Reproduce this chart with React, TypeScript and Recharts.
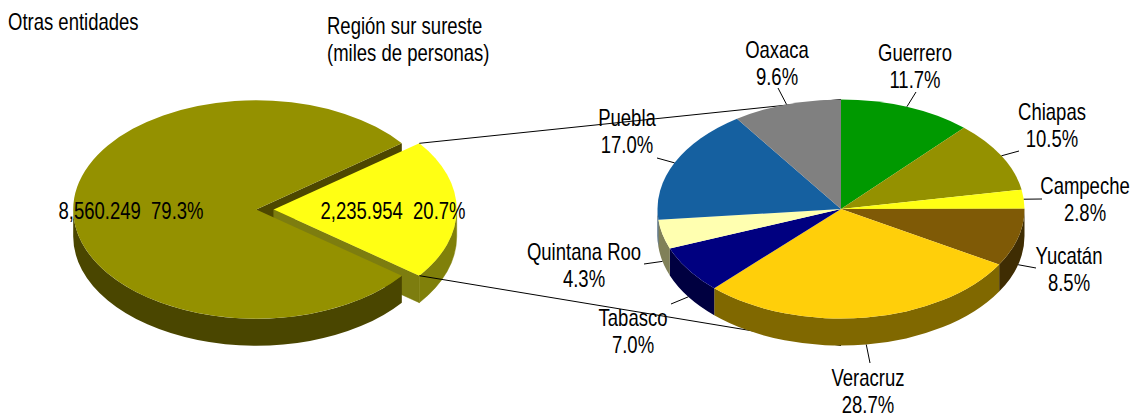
import { Pie, PieChart } from 'recharts';

const overviewNames = ['Otras entidades', 'Región sur sureste'];
const overviewValues = [8560.249, 2235.954];
const overviewShares = ['79.3%', '20.7%'];
const overviewColors = ['#949100', '#FFFF14'];
const overviewWalls = ['#4A4600', '#80800A'];

const regionNames = ['Guerrero', 'Chiapas', 'Campeche', 'Yucatán', 'Veracruz', 'Tabasco', 'Quintana Roo', 'Puebla', 'Oaxaca'];
const regionValues = [11.7, 10.5, 2.8, 8.5, 28.7, 7.0, 4.3, 17.0, 9.6];
const regionColors = ['#009900', '#949100', '#FFFF14', '#7F5A06', '#FFCF0A', '#000080', '#FFFFB0', '#1560A0', '#808080'];
const regionWalls = ['#004D00', '#4A4600', '#80800A', '#3F2D03', '#806800', '#000040', '#808058', '#0B3050', '#404040'];

// label centres and where the leader line stops, hand placed like in the original
const regionLabelPos = [[915, 54], [1052, 113], [1085, 187], [1069, 257], [868, 379], [633, 319], [584, 253], [627, 119], [777, 51]];
const regionLeaderEnds = [[916, 92], [1019, 151], [1042, 199], [1036, 268], [870, 363], [671, 304], [644, 264], [657, 158], [778, 88]];

const SQUASH = 0.597; // tilt of the pie, minor axis / major axis
const DEPTH = 27;
const LEFT = { cx: 256.2, cy: 209.5, r: 183 };
const RIGHT = { cx: 841, cy: 209, r: 183.5 };
const EXPLODE = 17.5; // yellow slice is pulled out to the right
const FONT = '"Liberation Sans", Arial, sans-serif';

const rad = (a: number) => (a * Math.PI) / 180;
const pt = (cx: number, cy: number, r: number, a: number) => [cx + r * Math.cos(rad(a)), cy - r * SQUASH * Math.sin(rad(a))];

// original text is tall and narrow, so 23px squeezed horizontally
const Txt = ({ x, y, anchor = 'start', children }: any) => (
  <text
    transform={`translate(${x},${y}) scale(0.805,1)`}
    textAnchor={anchor}
    fontFamily={FONT}
    fontSize={23}
    fill="#000"
    style={{ whiteSpace: 'pre' }}
  >
    {children}
  </text>
);

const topPath = (cx: number, cy: number, r: number, a0: number, a1: number) => {
  const [x0, y0] = pt(cx, cy, r, a0);
  const [x1, y1] = pt(cx, cy, r, a1);
  const large = a1 - a0 > 180 ? 1 : 0;
  return `M${cx},${cy} L${x0},${y0} A${r},${r * SQUASH} 0 ${large} 0 ${x1},${y1} Z`;
};

// rim of the slice, only the part facing the viewer
const wallPaths = (cx: number, cy: number, r: number, a0: number, a1: number) => {
  const out: string[] = [];
  for (let k = -2; k <= 2; k++) {
    const s = Math.max(a0, 180 + k * 360);
    const e = Math.min(a1, 360 + k * 360);
    if (e <= s) continue;
    const [x0, y0] = pt(cx, cy, r, s);
    const [x1, y1] = pt(cx, cy, r, e);
    const large = e - s > 180 ? 1 : 0;
    out.push(
      `M${x0},${y0} A${r},${r * SQUASH} 0 ${large} 0 ${x1},${y1} L${x1},${y1 + DEPTH} A${r},${r * SQUASH} 0 ${large} 1 ${x0},${y0 + DEPTH} Z`
    );
  }
  return out;
};

const cutFace = (cx: number, cy: number, r: number, a: number) => {
  const [x, y] = pt(cx, cy, r, a);
  return `M${cx},${cy} L${x},${y} L${x},${y + DEPTH} L${cx},${cy + DEPTH} Z`;
};

const range = (p: any) => [Math.min(p.startAngle, p.endAngle), Math.max(p.startAngle, p.endAngle)];

// back layer of the left pie: the faces showing through the gap, plus the yellow rim
const overviewBack = (p: any) => {
  const [a0, a1] = range(p);
  if (p.index === 0) return <path d={cutFace(p.cx, p.cy, p.outerRadius, a0)} fill="#4D4700" />;
  const cx = p.cx + EXPLODE;
  return (
    <g>
      <path d={cutFace(cx, p.cy, p.outerRadius, a0)} fill="#7D7D0F" stroke="#7D7D0F" strokeWidth={0.5} />
      {wallPaths(cx, p.cy, p.outerRadius, a0, a1).map((d) => (
        <path key={d} d={d} fill={overviewWalls[1]} stroke={overviewWalls[1]} strokeWidth={0.5} />
      ))}
    </g>
  );
};

const overviewTop = (p: any) => {
  const [a0, a1] = range(p);
  if (p.index === 1) return <path d={topPath(p.cx + EXPLODE, p.cy, p.outerRadius, a0, a1)} fill={overviewColors[1]} />;
  return (
    <g>
      {wallPaths(p.cx, p.cy, p.outerRadius, a0, a1).map((d) => (
        <path key={d} d={d} fill={overviewWalls[0]} />
      ))}
      <path d={topPath(p.cx, p.cy, p.outerRadius, a0, a1)} fill={overviewColors[0]} />
    </g>
  );
};

const regionBack = (p: any) => {
  const [a0, a1] = range(p);
  // the two connector lines go behind the right pie, so they are drawn with its first slice
  const yellowMid = (overviewValues[1] / (overviewValues[0] + overviewValues[1])) * 180;
  const [ux, uy] = pt(LEFT.cx + EXPLODE, LEFT.cy, LEFT.r, yellowMid);
  const [lx, ly] = pt(LEFT.cx + EXPLODE, LEFT.cy, LEFT.r, -yellowMid);
  return (
    <g>
      {p.index === 0 && (
        <g stroke="#000" strokeWidth={1}>
          <line x1={ux} y1={uy} x2={RIGHT.cx} y2={RIGHT.cy - RIGHT.r * SQUASH} />
          <line x1={lx} y1={ly} x2={RIGHT.cx} y2={RIGHT.cy + RIGHT.r * SQUASH + DEPTH} />
        </g>
      )}
      {wallPaths(p.cx, p.cy, p.outerRadius, a0, a1).map((d) => (
        <path key={d} d={d} fill={regionWalls[p.index]} />
      ))}
    </g>
  );
};

const regionTop = (p: any) => {
  const [a0, a1] = range(p);
  return <path d={topPath(p.cx, p.cy, p.outerRadius, a0, a1)} fill={regionColors[p.index]} />;
};

const regionLabel = (p: any) => {
  const { index, cx, cy, midAngle, outerRadius } = p;
  const [x, y] = regionLabelPos[index];
  const [ex, ey] = regionLeaderEnds[index];
  const [rx, ry] = pt(cx, cy, outerRadius, midAngle);
  const startY = Math.sin(rad(midAngle)) < 0 ? ry + DEPTH : ry;
  return (
    <g key={index}>
      <line x1={rx} y1={startY} x2={ex} y2={ey} stroke="#000" strokeWidth={1} />
      <Txt x={x} y={y + 7} anchor="middle">{regionNames[index]}</Txt>
      <Txt x={x} y={y + 34} anchor="middle">{regionValues[index].toFixed(1)}%</Txt>
    </g>
  );
};

const overviewLabel = (p: any) => {
  const x = p.index === 0 ? 131 : 393;
  const num = overviewValues[p.index].toLocaleString('en-US', { minimumFractionDigits: 3 });
  return (
    <Txt key={p.index} x={x} y={219} anchor="middle">
      {`${num}  ${overviewShares[p.index]}`}
    </Txt>
  );
};

const overviewData = overviewNames.map((name, i) => ({ name, value: overviewValues[i] }));
const regionData = regionNames.map((name, i) => ({ name, value: regionValues[i] }));

// yellow slice sits centred on the 3 o'clock direction
const yellowHalf = (overviewValues[1] / (overviewValues[0] + overviewValues[1])) * 180;

export default function App() {
  const left = { cx: LEFT.cx, cy: LEFT.cy, outerRadius: LEFT.r, startAngle: yellowHalf, endAngle: yellowHalf + 360 };
  const right = { cx: RIGHT.cx, cy: RIGHT.cy, outerRadius: RIGHT.r, startAngle: 90, endAngle: -270 };
  return (
    <div style={{ position: 'absolute', left: 0, top: 0, width: 1133, height: 415, background: '#fff' }}>
      <PieChart width={1133} height={415} margin={{ top: 0, right: 0, bottom: 0, left: 0 }}>
        <Pie {...left} data={overviewData} dataKey="value" stroke="none" paddingAngle={0} isAnimationActive={false} shape={overviewBack} inactiveShape={overviewBack} activeShape={overviewBack} />
        <Pie {...left} data={overviewData} dataKey="value" stroke="none" paddingAngle={0} isAnimationActive={false} shape={overviewTop} inactiveShape={overviewTop} activeShape={overviewTop} label={overviewLabel} labelLine={false} />
        <Pie {...right} data={regionData} dataKey="value" stroke="none" paddingAngle={0} isAnimationActive={false} shape={regionBack} inactiveShape={regionBack} activeShape={regionBack} />
        <Pie {...right} data={regionData} dataKey="value" stroke="none" paddingAngle={0} isAnimationActive={false} shape={regionTop} inactiveShape={regionTop} activeShape={regionTop} label={regionLabel} labelLine={false} />
        <Txt x={8} y={29.5}>Otras entidades</Txt>
        <Txt x={327} y={34}>Región sur sureste</Txt>
        <Txt x={327} y={61}>(miles de personas)</Txt>
      </PieChart>
    </div>
  );
}
